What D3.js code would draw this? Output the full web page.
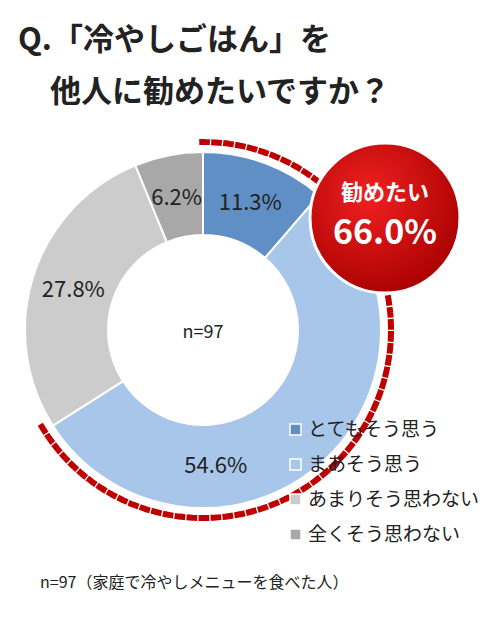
<!DOCTYPE html>
<html><head><meta charset="utf-8">
<script src="https://cdn.jsdelivr.net/npm/d3@7"></script>
<style>body{margin:0;background:#fff}</style></head>
<body><svg id="c" width="500" height="620"></svg>
<script>
const categories=["とてもそう思う","まあそう思う","あまりそう思わない","全くそう思わない"];
const values=[11.3,54.6,27.8,6.2];
const colors=["#5f8fc4","#a8c6ea","#cccccc","#a8a8a8"];
const labels=["11.3%","54.6%","27.8%","6.2%"];
const badgeLabel="勧めたい";
const badgeValue="66.0%";
const svg=d3.select("#c");
const F="'Noto Sans CJK JP',sans-serif";
svg.append("text").attr("x",18).attr("y",50).attr("font-family",F).attr("font-weight","bold").attr("font-size",31).attr("fill","#222").text("Q.「冷やしごはん」を");
svg.append("text").attr("x",50).attr("y",102).attr("font-family",F).attr("font-weight","bold").attr("font-size",31).attr("fill","#222").text("他人に勧めたいですか？");
const cx=203,cy=330,R=178,r=95;
const g=svg.append("g").attr("transform",`translate(${cx},${cy})`);
const pie=d3.pie().sort(null).value(d=>d)(values);
const arc=d3.arc().innerRadius(r).outerRadius(R);
g.selectAll("path.s").data(pie).enter().append("path").attr("d",arc).attr("fill",(d,i)=>colors[i]).attr("stroke","#fff").attr("stroke-width",2);
const la=d3.arc().innerRadius(136).outerRadius(136);
g.selectAll("text.l").data(pie).enter().append("text")
 .attr("transform",(d,i)=>{let dd=d;if(i===1){dd={startAngle:Math.PI*0.97,endAngle:Math.PI*0.97};}const c=la.centroid(dd);return `translate(${c[0]},${c[1]+8})`;})
 .attr("text-anchor","middle").attr("font-family",F).attr("font-size",22).attr("fill","#222").text((d,i)=>labels[i]);
g.append("text").attr("y",8).attr("text-anchor","middle").attr("font-family",F).attr("font-size",18).attr("fill","#222").text("n=97");
const agree=(values[0]+values[1])/100*2*Math.PI;
g.append("path").attr("d",d3.arc().innerRadius(188).outerRadius(188)({startAngle:-0.02,endAngle:agree+0.05}))
 .attr("fill","none").attr("stroke","#c00000").attr("stroke-width",6).attr("stroke-dasharray","6,6");
const grad=svg.append("defs").append("radialGradient").attr("id","rg").attr("cx","40%").attr("cy","35%").attr("r","70%");
grad.append("stop").attr("offset","0%").attr("stop-color","#f02020");
grad.append("stop").attr("offset","100%").attr("stop-color","#a80000");
svg.append("circle").attr("cx",385).attr("cy",218).attr("r",75).attr("fill","url(#rg)").attr("stroke","#fff").attr("stroke-width",3);
svg.append("text").attr("x",385).attr("y",200).attr("text-anchor","middle").attr("font-family",F).attr("font-weight","bold").attr("font-size",22).attr("fill","#fff").text(badgeLabel);
svg.append("text").attr("x",385).attr("y",244).attr("text-anchor","middle").attr("font-family",F).attr("font-weight","bold").attr("font-size",34).attr("fill","#fff").text(badgeValue);
const lg=svg.selectAll("g.lg").data(categories).enter().append("g").attr("transform",(d,i)=>`translate(290,${430+i*35})`);
lg.append("rect").attr("x",0).attr("y",-6).attr("width",11).attr("height",11).attr("fill",(d,i)=>colors[i]).attr("stroke","#fff").attr("stroke-width",1.5);
lg.append("text").attr("x",18).attr("y",6).attr("font-family",F).attr("font-size",19).attr("fill","#222").text(d=>d);
svg.append("text").attr("x",40).attr("y",588).attr("font-family",F).attr("font-size",16).attr("fill","#222").text("n=97（家庭で冷やしメニューを食べた人）");
</script></body></html>
